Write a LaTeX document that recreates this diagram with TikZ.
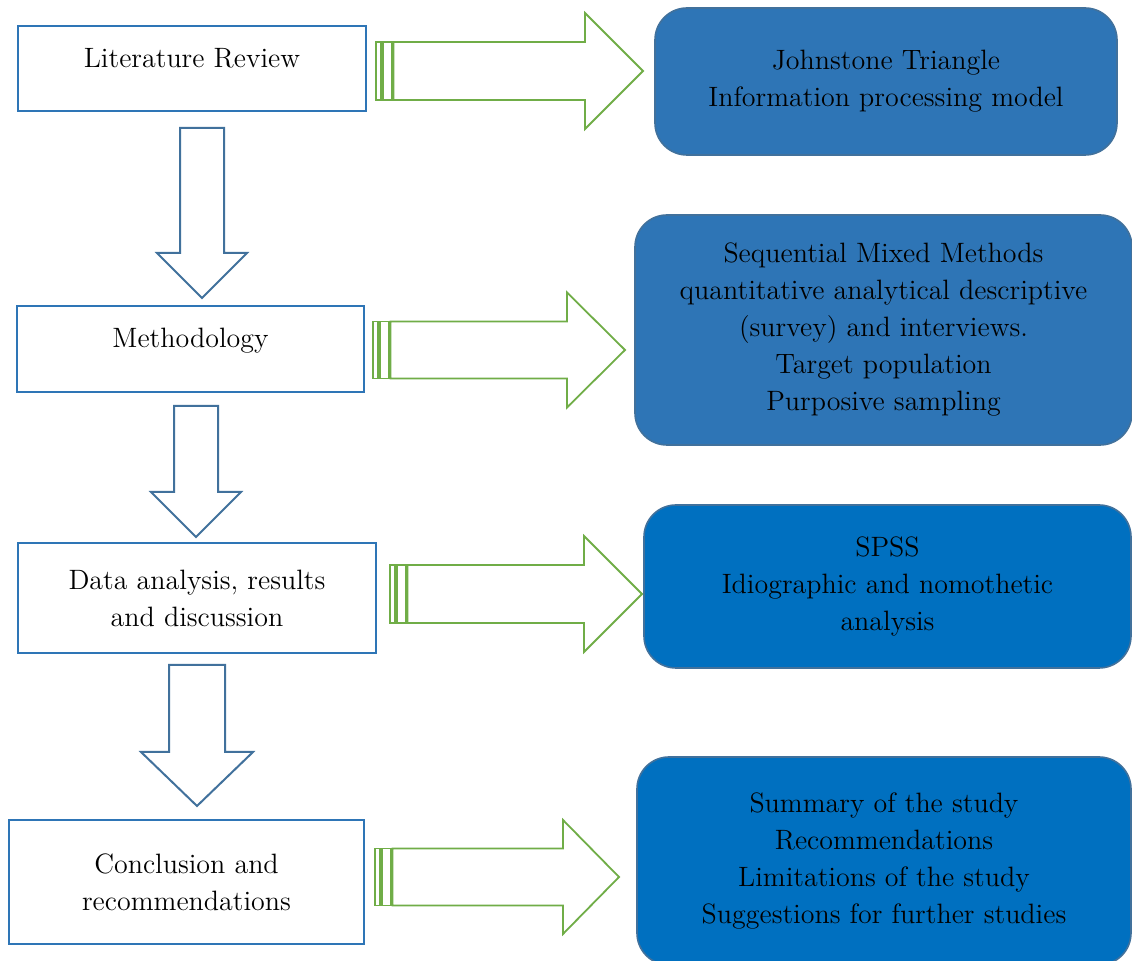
\documentclass[tikz,border=0pt]{standalone}
\usetikzlibrary{positioning}
\definecolor{boxblue}{HTML}{2E75B6}
\definecolor{edgeblue}{HTML}{41719C}
\definecolor{deepblue}{HTML}{0070C0}
\definecolor{arrowgreen}{HTML}{70AD47}

% block arrow pointing right: stripe x, head base x, tip x, mid y, shaft half, head half
\newcommand{\rightblock}[6]{
  \draw[sidearrow] (#1,#4-#5) rectangle (#1+5,#4+#5);
  \draw[sidearrow] (#1+7,#4-#5) rectangle (#1+16,#4+#5);
  \draw[sidearrow] (#1+17.5,#4-#5) -- (#2,#4-#5) -- (#2,#4-#6) -- (#3,#4)
    -- (#2,#4+#6) -- (#2,#4+#5) -- (#1+17.5,#4+#5) -- cycle;
}
% block arrow pointing down: mid x, shaft half, head half, top y, head base y, tip y
\newcommand{\downblock}[6]{
  \draw[downarrow] (#1-#2,#4) -- (#1+#2,#4) -- (#1+#2,#5) -- (#1+#3,#5) -- (#1,#6)
    -- (#1-#3,#5) -- (#1-#2,#5) -- cycle;
}

\begin{document}
\begin{tikzpicture}[
  x=0.5pt, y=-0.5pt,
  every node/.style={align=center, inner sep=0pt, font=\fontsize{14}{18.5}\selectfont},
  stage/.style={draw=boxblue, line width=1.3pt, fill=white},
  oneline/.style={text height=7pt, text depth=8pt},
  detail/.style={draw=edgeblue, line width=0.8pt, rounded corners=16pt},
  downarrow/.style={draw=edgeblue, line width=1pt, fill=white},
  sidearrow/.style={draw=arrowgreen, line width=0.9pt, fill=white}
]
\clip (0,0) rectangle (1132,961);
\fill[white] (0,0) rectangle (1132,961);

% stages on the left
\node[stage, oneline, minimum width=174pt, minimum height=42.5pt] (lit) at (192,68.5) {Literature Review};
\node[stage, oneline, minimum width=173.5pt, minimum height=43pt] (meth) at (190.5,349) {Methodology};
\node[stage, minimum width=179pt, minimum height=55pt] (data) at (197,598) {Data analysis, results\\ and discussion};
\node[stage, minimum width=177.5pt, minimum height=62pt] (concl) at (186.5,882) {Conclusion and\\ recommendations};

% details on the right
\node[detail, fill=boxblue, minimum width=231pt, minimum height=73.5pt] (john) at (886,81.5)
  {Johnstone Triangle\\ Information processing model};
\node[detail, fill=boxblue, minimum width=248.5pt, minimum height=115pt] (seq) at (883.5,330)
  {Sequential Mixed Methods\\ quantitative analytical descriptive\\ (survey) and interviews.\\ Target population\\ Purposive sampling};
\node[detail, fill=deepblue, minimum width=243.5pt, minimum height=81.5pt] (spss) at (887.5,586.5)
  {SPSS\\ Idiographic and nomothetic\\ analysis};
\node[detail, fill=deepblue, minimum width=247pt, minimum height=104pt] (summ) at (884,861)
  {Summary of the study\\ Recommendations\\ Limitations of the study\\ Suggestions for further studies};

% flow downwards
\downblock{202}{22}{45}{128}{253}{298}
\downblock{196}{22}{45}{406}{492}{537}
\downblock{197}{28}{56}{665}{752}{806}

% links to the right
\rightblock{376}{585}{643}{71}{29}{58}
\rightblock{373}{567}{625}{350}{28.5}{57.5}
\rightblock{390}{584}{642}{594}{29}{58}
\rightblock{375}{563}{619}{877}{28.5}{57}
\end{tikzpicture}
\end{document}
